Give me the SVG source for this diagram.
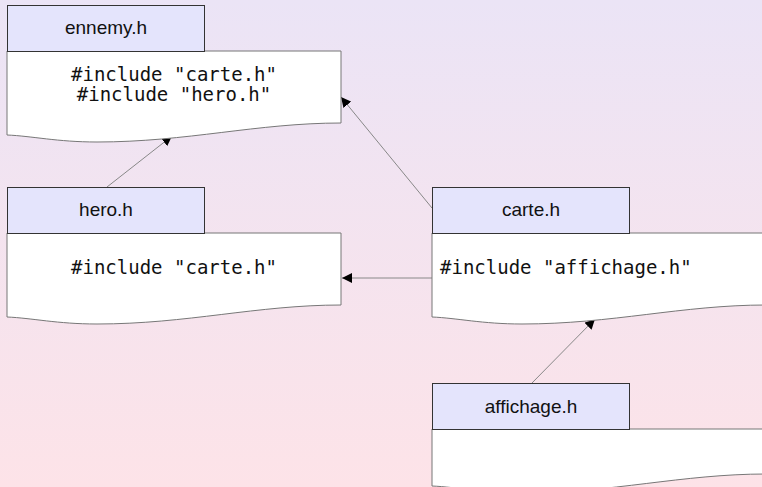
<svg xmlns="http://www.w3.org/2000/svg" width="762" height="487" viewBox="0 0 762 487">
<defs>
<linearGradient id="bg" x1="0" y1="0" x2="0" y2="1">
<stop offset="0" stop-color="#ebe4f6"/>
<stop offset="1" stop-color="#fde3e8"/>
</linearGradient>
<marker id="arr" viewBox="0 0 10 10" refX="10" refY="5" markerWidth="10" markerHeight="10" markerUnits="userSpaceOnUse" orient="auto">
<path d="M0,0 L10,5 L0,10 z" fill="#000"/>
</marker>
<path id="body" d="M0,0 H334 V72 C250,72 180,91 90,91 C50,91 25,85 0,84 Z"/>
</defs>
<style>
.tab{fill:#e4e4fc;stroke:#333;stroke-width:1}
.body{fill:#fff;stroke:#777;stroke-width:1}
.lbl{font-family:"Liberation Sans",Arial,sans-serif;font-size:19px;fill:#111;text-anchor:middle}
.code{font-family:"DejaVu Sans Mono",monospace;font-size:19px;fill:#111}
.conn{stroke:#888;stroke-width:1;fill:none;marker-end:url(#arr)}
</style>
<rect width="762" height="487" fill="url(#bg)"/>
<g id="connectors">
<line class="conn" x1="107" y1="187" x2="172" y2="136"/>
<line class="conn" x1="432" y1="208" x2="341" y2="97"/>
<line class="conn" x1="432" y1="278" x2="342" y2="278"/>
<line class="conn" x1="531" y1="384" x2="595" y2="319"/>
</g>
<g id="ennemy">
<use href="#body" class="body" x="7" y="51"/>
<rect class="tab" x="7.5" y="5.5" width="197" height="46"/>
<text class="lbl" x="106" y="34">ennemy.h</text>
<text class="code" x="174" y="81" text-anchor="middle">#include "carte.h"</text>
<text class="code" x="174" y="101" text-anchor="middle">#include "hero.h"</text>
</g>
<g id="hero">
<use href="#body" class="body" x="7" y="233"/>
<rect class="tab" x="7.5" y="187.5" width="197" height="46"/>
<text class="lbl" x="106" y="216">hero.h</text>
<text class="code" x="174" y="274" text-anchor="middle">#include "carte.h"</text>
</g>
<g id="carte">
<use href="#body" class="body" x="432" y="233"/>
<rect class="tab" x="432.5" y="187.5" width="197" height="46"/>
<text class="lbl" x="531" y="216">carte.h</text>
<text class="code" x="440" y="274">#include "affichage.h"</text>
</g>
<g id="affichage">
<path class="body" d="M432,429 H766 V474 C682,474 612,493 522,493 C482,493 457,487 432,486 Z"/>
<rect class="tab" x="432.5" y="383.5" width="197" height="46"/>
<text class="lbl" x="531" y="413">affichage.h</text>
</g>
</svg>
